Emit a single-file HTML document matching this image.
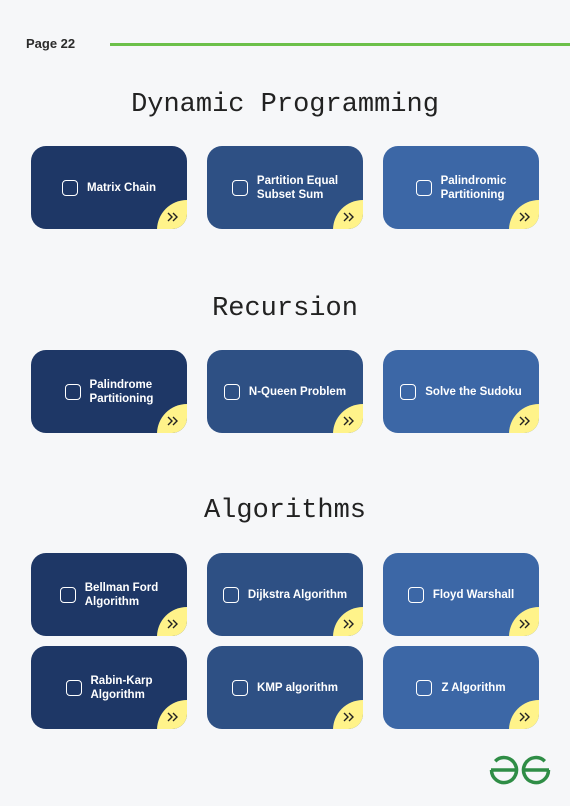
<!DOCTYPE html>
<html><head><style>
body{margin:0;width:570px;height:806px;background:#f6f7f9;position:relative;overflow:hidden;font-family:"Liberation Sans",sans-serif}
.pg{position:absolute;left:26px;top:36px;font-weight:bold;font-size:13px;color:#2b2b2b}
.line{position:absolute;left:110px;top:43px;width:460px;height:3px;background:#6cc04a}
.h{position:absolute;left:0;width:570px;text-align:center;font-family:"Liberation Mono",monospace;font-size:27px;color:#222}
.c{position:absolute;width:156px;height:83px;border-radius:15px;overflow:hidden;display:flex;align-items:center;justify-content:center;color:#fff;font-size:11.5px;font-weight:bold;line-height:14px}
.c1{background:#1e3766}.c2{background:#2e5084}.c3{background:#3c67a6}
.cb{width:14px;height:14px;border:1.5px solid #fff;border-radius:4px;margin-right:9px;flex:none}
.y{position:absolute;left:126px;top:54px;width:60px;height:60px;border-radius:50%;background:#fff38a}
.ar{position:absolute;right:7px;bottom:6px;width:14px;height:12px}
</style></head><body>
<div class="pg">Page 22</div><div class="line"></div>
<div class="h" style="top:90px">Dynamic Programming</div>
<div class="h" style="top:294px">Recursion</div>
<div class="h" style="top:496px">Algorithms</div>

<div class="c c1" style="left:31px;top:146px"><div class="cb"></div><div>Matrix Chain</div><div class="y"></div><svg class="ar" viewBox="0 0 14 12"><path d="M2 2l4 4-4 4M7 2l4 4-4 4" fill="none" stroke="#222" stroke-width="1.4"/></svg></div>
<div class="c c2" style="left:207px;top:146px"><div class="cb"></div><div>Partition Equal<br>Subset Sum</div><div class="y"></div><svg class="ar" viewBox="0 0 14 12"><path d="M2 2l4 4-4 4M7 2l4 4-4 4" fill="none" stroke="#222" stroke-width="1.4"/></svg></div>
<div class="c c3" style="left:383px;top:146px"><div class="cb"></div><div>Palindromic<br>Partitioning</div><div class="y"></div><svg class="ar" viewBox="0 0 14 12"><path d="M2 2l4 4-4 4M7 2l4 4-4 4" fill="none" stroke="#222" stroke-width="1.4"/></svg></div>

<div class="c c1" style="left:31px;top:350px"><div class="cb"></div><div>Palindrome<br>Partitioning</div><div class="y"></div><svg class="ar" viewBox="0 0 14 12"><path d="M2 2l4 4-4 4M7 2l4 4-4 4" fill="none" stroke="#222" stroke-width="1.4"/></svg></div>
<div class="c c2" style="left:207px;top:350px"><div class="cb"></div><div>N-Queen Problem</div><div class="y"></div><svg class="ar" viewBox="0 0 14 12"><path d="M2 2l4 4-4 4M7 2l4 4-4 4" fill="none" stroke="#222" stroke-width="1.4"/></svg></div>
<div class="c c3" style="left:383px;top:350px"><div class="cb"></div><div>Solve the Sudoku</div><div class="y"></div><svg class="ar" viewBox="0 0 14 12"><path d="M2 2l4 4-4 4M7 2l4 4-4 4" fill="none" stroke="#222" stroke-width="1.4"/></svg></div>

<div class="c c1" style="left:31px;top:553px"><div class="cb"></div><div>Bellman Ford<br>Algorithm</div><div class="y"></div><svg class="ar" viewBox="0 0 14 12"><path d="M2 2l4 4-4 4M7 2l4 4-4 4" fill="none" stroke="#222" stroke-width="1.4"/></svg></div>
<div class="c c2" style="left:207px;top:553px"><div class="cb"></div><div>Dijkstra Algorithm</div><div class="y"></div><svg class="ar" viewBox="0 0 14 12"><path d="M2 2l4 4-4 4M7 2l4 4-4 4" fill="none" stroke="#222" stroke-width="1.4"/></svg></div>
<div class="c c3" style="left:383px;top:553px"><div class="cb"></div><div>Floyd Warshall</div><div class="y"></div><svg class="ar" viewBox="0 0 14 12"><path d="M2 2l4 4-4 4M7 2l4 4-4 4" fill="none" stroke="#222" stroke-width="1.4"/></svg></div>

<div class="c c1" style="left:31px;top:646px"><div class="cb"></div><div>Rabin-Karp<br>Algorithm</div><div class="y"></div><svg class="ar" viewBox="0 0 14 12"><path d="M2 2l4 4-4 4M7 2l4 4-4 4" fill="none" stroke="#222" stroke-width="1.4"/></svg></div>
<div class="c c2" style="left:207px;top:646px"><div class="cb"></div><div>KMP algorithm</div><div class="y"></div><svg class="ar" viewBox="0 0 14 12"><path d="M2 2l4 4-4 4M7 2l4 4-4 4" fill="none" stroke="#222" stroke-width="1.4"/></svg></div>
<div class="c c3" style="left:383px;top:646px"><div class="cb"></div><div>Z Algorithm</div><div class="y"></div><svg class="ar" viewBox="0 0 14 12"><path d="M2 2l4 4-4 4M7 2l4 4-4 4" fill="none" stroke="#222" stroke-width="1.4"/></svg></div>

<svg style="position:absolute;left:489px;top:753px" width="62" height="34" viewBox="0 0 62 34">
<g fill="none" stroke="#2f8d46" stroke-width="3.5">
<path d="M6.2 8.2 A12.5 12.5 0 1 1 2.5 17"/><path d="M2 17 H28"/>
<path d="M55.8 8.2 A12.5 12.5 0 1 0 59.5 17"/><path d="M34 17 H60"/>
</g></svg>
</body></html>
